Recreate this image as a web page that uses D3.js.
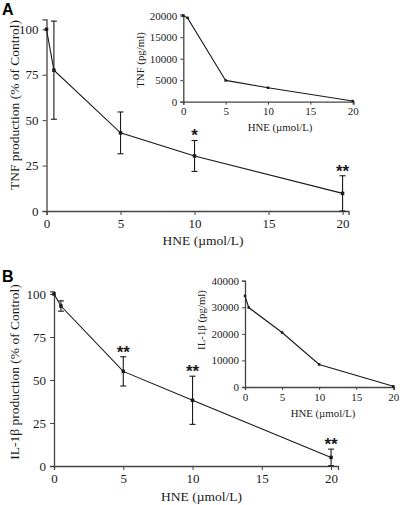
<!DOCTYPE html>
<html><head><meta charset="utf-8">
<script src="https://cdn.jsdelivr.net/npm/d3@7"></script>
<style>body{margin:0;background:#fff}svg{display:block}</style>
</head><body>
<svg id="c" width="400" height="505"></svg>
<script>
// ---- Data ----
const doses = [0, 0.5, 5, 10, 20];
const tnfPct = [100, 77.5, 43, 30.3, 9.7];
const tnfErr = [0, 27, 11.5, 8.5, 9.7];
const tnfStars = ["", "", "", "*", "**"];
const tnfAbs = [20000, 19500, 4950, 3250, 150];
const ilPct = [100, 93, 55, 38.2, 5];
const ilErr = [0, 3, 8.5, 14, 4.8];
const ilStars = ["", "", "**", "**", "**"];
const ilAbs = [34300, 29900, 20500, 8500, 250];
const pctTicks = [0, 25, 50, 75, 100];
const doseTicks = [0, 5, 10, 15, 20];
const tnfAbsTicks = [0, 5000, 10000, 15000, 20000];
const ilAbsTicks = [0, 10000, 20000, 30000, 40000];

const svg = d3.select("#c");
const serif = "'Liberation Serif', 'Times New Roman', serif";
const ink = "#1a1a1a";

function panel(o) {
  const g = svg.append("g");
  const x = d3.scaleLinear().domain(o.xDom).range(o.xRange);
  const y = d3.scaleLinear().domain(o.yDom).range(o.yRange);
  const xa = g.append("g").attr("transform", `translate(0,${o.yRange[0]})`)
    .call(d3.axisBottom(x).tickValues(o.xTicks).tickSize(o.tick).tickPadding(o.pad).tickFormat(d3.format("d")));
  const ya = g.append("g").attr("transform", `translate(${o.xRange[0]},0)`)
    .call(d3.axisLeft(y).tickValues(o.yTicks).tickSize(o.tick).tickPadding(o.pad).tickFormat(d3.format("d")));
  [xa, ya].forEach(a => {
    a.select(".domain").attr("stroke", "#444").attr("stroke-width", 1.3);
    a.selectAll(".tick line").attr("stroke", "#444");
    a.selectAll("text").attr("font-family", serif).attr("font-size", o.fs).attr("fill", ink);
  });
  const pts = o.xs.map((d, i) => [d, o.ys[i]]);
  g.append("path").datum(pts)
    .attr("d", d3.line().x(d => x(d[0])).y(d => y(d[1])))
    .attr("fill", "none").attr("stroke", ink).attr("stroke-width", 1.1);
  if (o.err) {
    pts.forEach((p, i) => {
      const e = o.err[i]; if (!e) return;
      const cx = x(p[0]);
      g.append("line").attr("x1", cx).attr("x2", cx).attr("y1", y(p[1] + e)).attr("y2", y(Math.max(0, p[1] - e)))
        .attr("stroke", ink).attr("stroke-width", 1.1);
      [p[1] + e, p[1] - e].forEach(v => {
        if (v < 0) return;
        g.append("line").attr("x1", cx - 3).attr("x2", cx + 3).attr("y1", y(v)).attr("y2", y(v))
          .attr("stroke", ink).attr("stroke-width", 1.1);
      });
      if (o.stars && o.stars[i]) {
        g.append("text").attr("x", cx).attr("y", y(p[1] + e) + 1)
          .attr("text-anchor", "middle").attr("font-family", "'Liberation Sans', Arial, sans-serif")
          .attr("font-weight", "bold").attr("font-size", 17).attr("fill", ink)
          .text(o.stars[i]);
      }
    });
  }
  g.selectAll("rect.m").data(pts).enter().append("rect")
    .attr("x", d => x(d[0]) - o.ms / 2).attr("y", d => y(d[1]) - o.ms / 2)
    .attr("width", o.ms).attr("height", o.ms).attr("fill", ink);
  g.append("text").attr("x", o.xt[0]).attr("y", o.xt[1]).attr("text-anchor", "middle")
    .attr("font-family", serif).attr("font-size", o.tfs).attr("fill", ink).text(o.xLabel);
  g.append("text").attr("transform", `translate(${o.yt[0]},${o.yt[1]}) rotate(-90)`).attr("text-anchor", "middle")
    .attr("font-family", serif).attr("font-size", o.tfs).attr("fill", ink).text(o.yLabel);
}

panel({xDom: [0, 20.4], xRange: [46.5, 348.5], yDom: [0, 105.5], yRange: [211, 19.3],
  xTicks: doseTicks, yTicks: pctTicks, tick: 4, pad: 4, fs: 13, tfs: 13.5, ms: 3.5,
  xs: doses, ys: tnfPct, err: tnfErr, stars: tnfStars,
  xLabel: "HNE (\u00b5mol/L)", yLabel: "TNF production (% of Control)", xt: [203, 245], yt: [19, 105]});
panel({xDom: [0, 20.1], xRange: [183.3, 353.5], yDom: [0, 20300], yRange: [101.7, 14.4],
  xTicks: doseTicks, yTicks: tnfAbsTicks, tick: 3, pad: 3, fs: 11, tfs: 10.8, ms: 2.5,
  xs: doses, ys: tnfAbs,
  xLabel: "HNE (\u00b5mol/L)", yLabel: "TNF (pg/ml)", xt: [280, 130.5], yt: [143.5, 60]});
panel({xDom: [0, 20.5], xRange: [54, 338], yDom: [0, 101.5], yRange: [466, 291.4],
  xTicks: doseTicks, yTicks: pctTicks, tick: 4, pad: 4, fs: 13, tfs: 13.5, ms: 3.5,
  xs: doses, ys: ilPct, err: ilErr, stars: ilStars,
  xLabel: "HNE (\u00b5mol/L)", yLabel: "IL-1\u03b2 production (% of Control)", xt: [201.5, 501], yt: [19, 372]});
panel({xDom: [0, 20.1], xRange: [245, 394], yDom: [0, 40000], yRange: [387, 280.7],
  xTicks: doseTicks, yTicks: ilAbsTicks, tick: 3, pad: 3, fs: 11, tfs: 10.8, ms: 2.5,
  xs: doses, ys: ilAbs,
  xLabel: "HNE (\u00b5mol/L)", yLabel: "IL-1\u03b2 (pg/ml)", xt: [323, 417], yt: [205, 320]});

svg.append("text").attr("x", 2).attr("y", 15).attr("font-family", "'Liberation Sans', Arial, sans-serif")
  .attr("font-weight", "bold").attr("font-size", 16).attr("fill", "#000").text("A");
svg.append("text").attr("x", 2).attr("y", 282).attr("font-family", "'Liberation Sans', Arial, sans-serif")
  .attr("font-weight", "bold").attr("font-size", 16).attr("fill", "#000").text("B");
</script>
</body></html>
